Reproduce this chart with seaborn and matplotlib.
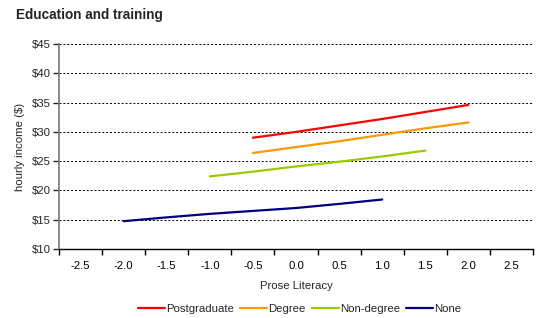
import numpy as np
import pandas as pd
import matplotlib
matplotlib.use('Agg')
import matplotlib.pyplot as plt
from matplotlib.ticker import FuncFormatter
import seaborn as sns

sns.set_style('white')
plt.rcParams['font.family'] = ['Liberation Sans', 'DejaVu Sans']

# Data
x_labels = [-2.5, -2.0, -1.5, -1.0, -0.5, 0.0, 0.5, 1.0, 1.5, 2.0, 2.5]

postgrad_x = [-0.5, 0.0, 0.5, 1.0, 1.5, 2.0]
postgrad_y = [29.0, 30.0, 31.1, 32.2, 33.4, 34.6]

degree_x = [-0.5, 0.0, 0.5, 1.0, 1.5, 2.0]
degree_y = [26.4, 27.4, 28.4, 29.5, 30.6, 31.6]

nondegree_x = [-1.0, -0.5, 0.0, 0.5, 1.0, 1.5]
nondegree_y = [22.4, 23.2, 24.1, 24.9, 25.8, 26.8]

none_x = [-2.0, -1.5, -1.0, -0.5, 0.0, 0.5, 1.0]
none_y = [14.75, 15.4, 16.0, 16.5, 17.0, 17.7, 18.45]

groups = ['Postgraduate', 'Degree', 'Non-degree', 'None']
colors = ['#FF0000', '#FF9900', '#99CC00', '#000080']

df = pd.concat([
    pd.DataFrame({'literacy': postgrad_x, 'income': postgrad_y, 'education': 'Postgraduate'}),
    pd.DataFrame({'literacy': degree_x, 'income': degree_y, 'education': 'Degree'}),
    pd.DataFrame({'literacy': nondegree_x, 'income': nondegree_y, 'education': 'Non-degree'}),
    pd.DataFrame({'literacy': none_x, 'income': none_y, 'education': 'None'}),
], ignore_index=True)

fs = 8.2

fig = plt.figure(figsize=(5.37, 3.18), dpi=100)
ax = fig.add_axes([0.1099, 0.217, 0.8827, 0.6446])

sns.lineplot(data=df, x='literacy', y='income', hue='education', hue_order=groups,
             palette=colors, linewidth=1.6, ax=ax, legend=False)

ax.set_xlim(-2.75, 2.75)
ax.set_ylim(10, 45)
ax.set_yticks(np.arange(10, 46, 5))
ax.yaxis.set_major_formatter(FuncFormatter(lambda v, p: f'${v:.0f}'))

# Excel-style category axis: labels centred, tick marks on the boundaries
ax.set_xticks(x_labels)
ax.set_xticklabels([f'{v:.1f}' for v in x_labels])
ax.set_xticks(np.arange(-2.75, 2.76, 0.5), minor=True)
ax.tick_params(axis='x', which='major', length=0, pad=9, labelsize=fs, colors='#000000')
ax.tick_params(axis='x', which='minor', length=4, width=1, direction='out', color='#000000', bottom=True)
ax.tick_params(axis='y', length=4, width=1, direction='out', labelsize=fs, left=True, pad=2)

for yv in np.arange(15, 46, 5):
    ax.axhline(yv, color='#000000', linestyle=(0, (2, 2)), linewidth=0.7, zorder=0)

for s in ['top', 'right']:
    ax.spines[s].set_visible(False)
ax.spines['left'].set_color('#777777')
ax.spines['left'].set_linewidth(1.2)
ax.spines['bottom'].set_color('#000000')
ax.spines['bottom'].set_linewidth(1.0)

ax.set_xlabel('Prose Literacy', fontsize=fs, labelpad=7)
ax.set_ylabel('hourly income ($)', fontsize=fs, labelpad=5)

fig.text(0.03, 0.953, 'Education and training', fontsize=9.8, fontweight='bold', va='center', ha='left')

handles = [plt.Line2D([0], [0], color=c, linewidth=1.6) for c in colors]
fig.legend(handles, groups, loc='center', bbox_to_anchor=(0.558, 0.028), ncol=4, frameon=False,
           fontsize=fs, handlelength=2.4, handletextpad=0.1, columnspacing=0.5)

fig.savefig('out.png', dpi=100)
